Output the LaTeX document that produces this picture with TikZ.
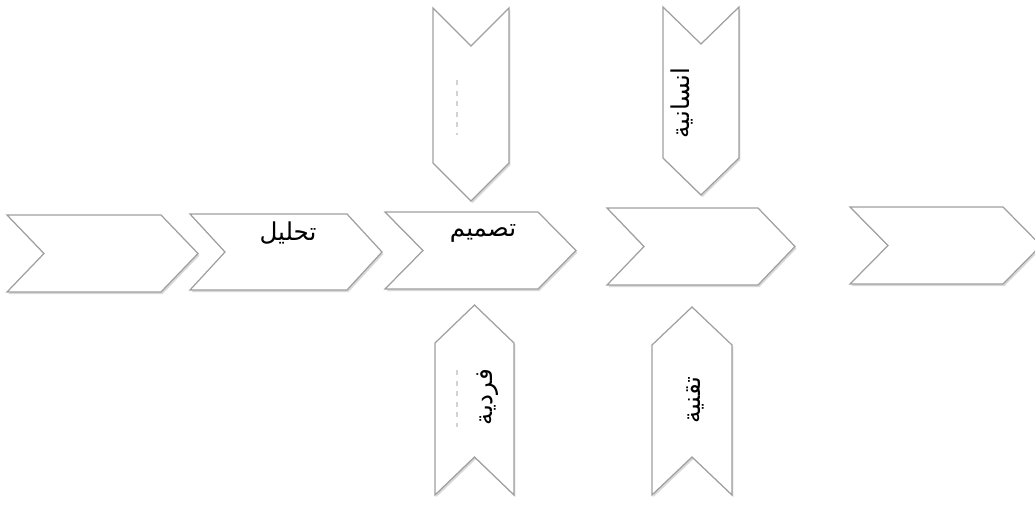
\documentclass[tikz,border=0pt]{standalone}
\usepackage{fontspec}
\newfontfamily\arabicfont[Script=Arabic]{DejaVu Sans}
\TeXXeTstate=1
\usetikzlibrary{shadows}
\tikzset{
	chevron/.style={draw=gray!75, fill=white, line width=0.7pt, line join=miter,
		drop shadow={shadow xshift=0.8pt, shadow yshift=-1.2pt, opacity=0.3, fill=gray}},
	label/.style={font=\arabicfont\fontsize{14}{16}\selectfont, inner sep=0pt},
	ghost/.style={draw=gray!35, dashed, line width=0.6pt}
}
\begin{document}
\begin{tikzpicture}[x=0.02cm,y=-0.02cm]
	\useasboundingbox (0,0) rectangle (1035,504);
	% horizontal row, left to right
	\foreach \l/\t/\r/\b/\d in {7/215/161/292/37, 190/214/347/290/35, 385/212/538/289/38, 607/208/758/285/37, 850/207/1003/284/38}
		\draw[chevron] (\l,\t)--(\r,\t)--({\r+\d},{(\t+\b)/2})--(\r,\b)--(\l,\b)--({\l+\d},{(\t+\b)/2})--cycle;
	% pointing down
	\foreach \l/\r/\t/\b/\d in {433/509/8/163/38, 663/739/7/158/37}
		\draw[chevron] (\l,\t)--({(\l+\r)/2},{\t+\d})--(\r,\t)--(\r,\b)--({(\l+\r)/2},{\b+\d})--(\l,\b)--cycle;
	% pointing up
	\foreach \l/\r/\t/\b/\d in {435/514/343/495/38, 652/732/345/495/38}
		\draw[chevron] (\l,\t)--({(\l+\r)/2},{\t-\d})--(\r,\t)--(\r,\b)--({(\l+\r)/2},{\b-\d})--(\l,\b)--cycle;
	
	\node[label] (analysis) at (288,233) {\beginR تحليل\endR};
	\node[label] (design) at (483,233) {\beginR تصميم\endR};
	\node[label, rotate=90] (human) at (682,103) {\beginR انسانية\endR};
	\node[label, rotate=90] (individual) at (488,397) {\beginR فردية\endR};
	\node[label, rotate=90] (technical) at (695,400) {\beginR تقنية\endR};
	
	\coordinate (g1) at (457,80);
	\coordinate (g2) at (457,135);
	\coordinate (g3) at (457,370);
	\coordinate (g4) at (457,427);
	\draw[ghost] (g1)--(g2);
	\draw[ghost] (g3)--(g4);
\end{tikzpicture}
\end{document}
